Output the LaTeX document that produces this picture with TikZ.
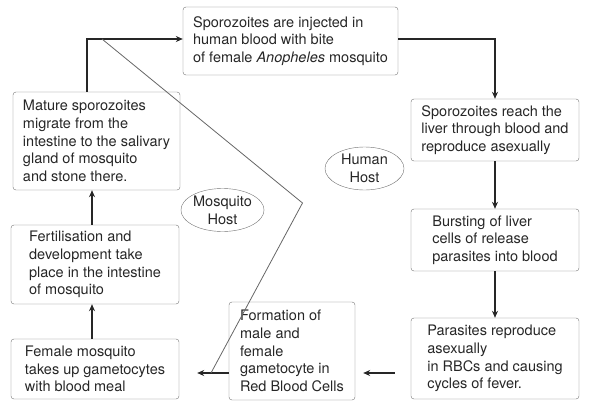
\documentclass[tikz,border=0pt]{standalone}
\usepackage{fontspec}
\setmainfont{TeX Gyre Heros}
\usetikzlibrary{positioning,arrows.meta,calc,shapes.geometric}

\newcommand{\boxfont}{\fontsize{14.5}{17.7}\selectfont}

\begin{document}
\begin{tikzpicture}[x=1pt,y=-1pt,>={Stealth[length=7pt,width=6pt]},
  stage/.style={draw=black!55,rounded corners=3pt,align=left,inner sep=0pt,font=\boxfont,text=black!85},
  host/.style={ellipse,draw=black!55,inner sep=0pt,align=center,minimum width=79pt,minimum height=43pt,font=\boxfont,text=black!85},
  link/.style={->,draw=black!85,line width=1.1pt}]
\useasboundingbox (0,0) rectangle (590,410);

% human host side
\node[stage,minimum width=215pt,minimum height=68pt] (inject) at (290.5,41)
  {Sporozoites are injected in\\human blood with bite\\of female \emph{Anopheles} mosquito};
\node[stage,minimum width=168pt,minimum height=62pt] (liver) at (495,130)
  {Sporozoites reach the\\liver through blood and\\reproduce asexually};
\node[stage,minimum width=168pt,minimum height=62pt] (burst) at (495,240)
  {Bursting of liver\\cells of release\\parasites into blood};
\node[stage,minimum width=168pt,minimum height=81pt] (parasite) at (495,358.5)
  {Parasites reproduce\\asexually\\in RBCs and causing\\cycles of fever.};
\node[stage,minimum width=126pt,minimum height=98pt] (formation) at (292,351)
  {Formation of\\male and\\female\\gametocyte in\\Red Blood Cells};

% mosquito side
\node[stage,minimum width=168pt,minimum height=60pt] (female) at (95,369)
  {Female mosquito\\takes up gametocytes\\with blood meal};
\node[stage,minimum width=168pt,minimum height=79pt] (fert) at (95,264.5)
  {Fertilisation and\\development take\\place in the intestine\\of mosquito};
\node[stage,minimum width=167pt,minimum height=98pt] (mature) at (96.5,141)
  {Mature sporozoites\\migrate from the\\intestine to the salivary\\gland of mosquito\\and stone there.};

\node[host] (human) at (364.5,168.5) {Human\\Host};
\node[host] (mosq) at (222.5,210) {Mosquito\\Host};

% helper points
\coordinate (corner) at (87,39);
\coordinate (spine) at (92,0);
\coordinate (row) at (0,373);

\draw[link] (mature.north -| corner) -- (corner) -- (inject.west |- corner);
\draw[link] (inject.east |- corner) -| (liver.north);
\draw[link] (liver) -- (burst);
\draw[link] (burst) -- (parasite);
\draw[link,shorten <=16pt,shorten >=8pt] (parasite.west |- row) -- (formation.east |- row);
\draw[link,shorten >=18pt] (formation.west |- row) -- (female.east |- row);
\draw[link] (female.north -| spine) -- (fert.south -| spine);
\draw[link] (fert.north -| spine) -- (mature.south -| spine);

% boundary between the two hosts
\draw[black!60,line width=0.8pt] (102,39) -- (302.5,203) -- (211,373);
\end{tikzpicture}
\end{document}
